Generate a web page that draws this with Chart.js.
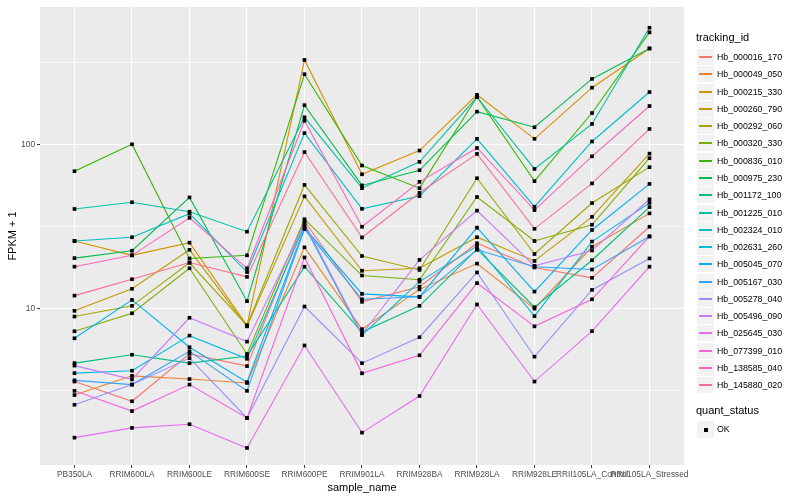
<!DOCTYPE html>
<html>
<head>
<meta charset="utf-8">
<script src="https://cdn.jsdelivr.net/npm/chart.js@4.4.0/dist/chart.umd.min.js"></script>
<style>
  body { margin: 0; background: #fff; }
  #wrap { position: relative; width: 800px; height: 500px; font-family: "Liberation Sans", Arial, sans-serif; color: #000; }
  #legend div { position: absolute; white-space: nowrap; }
</style>
</head>
<body>
<div id="wrap">
  <canvas id="fpkm" width="800" height="500"></canvas>
  <div id="legend"></div>
</div>
<script>
// samples on the x axis
var sampleNames = ["PB350LA", "RRIM600LA", "RRIM600LE", "RRIM600SE", "RRIM600PE", "RRIM901LA",
    "RRIM928BA", "RRIM928LA", "RRIM928LE", "RRII105LA_Control", "RRII105LA_Stressed"];

var trackingIds = ["Hb_000016_170", "Hb_000049_050", "Hb_000215_330", "Hb_000260_790", "Hb_000292_060",
    "Hb_000320_330", "Hb_000836_010", "Hb_000975_230", "Hb_001172_100", "Hb_001225_010",
    "Hb_002324_010", "Hb_002631_260", "Hb_005045_070", "Hb_005167_030", "Hb_005278_040",
    "Hb_005496_090", "Hb_025645_030", "Hb_077399_010", "Hb_138585_040", "Hb_145880_020"];

// FPKM + 1, one value per sample
var hb_000016_170 = [3.6, 2.73, 5.3, 4.47, 34, 11.0, 13.6, 25, 17.8, 15.4, 31.5];
var hb_000049_050 = [2.98, 3.9, 3.73, 3.53, 23.6, 7.5, 13.1, 18.8, 10.0, 23.8, 38];
var hb_000215_330 = [25.8, 21.1, 25.2, 7.9, 326, 65.7, 91.6, 200, 108, 221, 383];
var hb_000260_790 = [9.7, 13.2, 22.8, 7.8, 48.2, 17, 17.6, 27.2, 19.5, 36.2, 87.8];
var hb_000292_060 = [8.95, 10.4, 19.0, 7.9, 56.6, 20.9, 17.2, 62.2, 21.5, 43.9, 72.6];
var hb_000320_330 = [7.28, 9.37, 17.6, 5.3, 35, 15.9, 15, 47.8, 25.8, 32.4, 82.3];
var hb_000836_010 = [68.6, 100, 20.2, 21.1, 267, 74.3, 54.1, 194, 59.7, 155, 480];
var hb_000975_230 = [20.3, 22.5, 47.5, 11.1, 173, 56.2, 69.5, 158, 127, 250, 383];
var hb_001172_100 = [4.66, 5.24, 4.66, 5.15, 18, 7.2, 10.4, 23, 10.2, 19.7, 41.5];
var hb_001225_010 = [40.4, 44.4, 38.9, 29.4, 146, 54.1, 78.2, 194, 70.8, 133, 512];
var hb_002324_010 = [25.8, 27.2, 37.8, 16.7, 117, 40.5, 48.4, 108, 41.7, 104, 208];
var hb_002631_260 = [4.05, 4.19, 6.85, 4.95, 32, 6.9, 14.6, 24, 9, 25.6, 44];
var hb_005045_070 = [6.6, 11.3, 5.82, 3.57, 31, 12.3, 11.8, 31.1, 12.7, 30.1, 57.4];
var hb_005167_030 = [3.66, 3.45, 5.5, 3.16, 30.5, 11.4, 11.8, 22.8, 18.0, 17.3, 27.5];
var hb_005278_040 = [2.6, 3.45, 5.0, 2.16, 10.3, 4.66, 6.7, 16.6, 5.1, 13.0, 20.2];
var hb_005496_090 = [4.5, 3.71, 8.8, 6.3, 33, 7.0, 19.8, 39.5, 18.2, 22.6, 46.3];
var hb_025645_030 = [1.64, 1.88, 1.98, 1.42, 5.97, 1.76, 2.94, 10.6, 3.6, 7.3, 18.0];
var hb_077399_010 = [3.16, 2.38, 3.45, 2.16, 20.5, 4.04, 5.2, 14.3, 7.8, 11.4, 27.5];
var hb_138585_040 = [18.0, 21.1, 35.7, 17.6, 139, 31.5, 59.1, 95, 39.8, 84.5, 171];
var hb_145880_020 = [12.0, 15.1, 19.1, 15.6, 89.7, 27.1, 50.7, 87.4, 30.6, 57.8, 124];

var seriesValues = [hb_000016_170, hb_000049_050, hb_000215_330, hb_000260_790, hb_000292_060,
    hb_000320_330, hb_000836_010, hb_000975_230, hb_001172_100, hb_001225_010,
    hb_002324_010, hb_002631_260, hb_005045_070, hb_005167_030, hb_005278_040,
    hb_005496_090, hb_025645_030, hb_077399_010, hb_138585_040, hb_145880_020];

// y ticks: labelled majors and unlabelled half-decade minors
var majorTicks = [10, 100];
var minorTicks = [3.1623, 31.623, 316.23];

// ggplot hue palette, 20 levels
var hueColors = ["#F8766D", "#EA8331", "#D89000", "#C09B00", "#A3A500", "#7CAE00", "#39B600", "#00BB4E",
    "#00BF7D", "#00C1A3", "#00BFC4", "#00BAE0", "#00B0F6", "#35A2FF", "#9590FF", "#C77CFF",
    "#E76BF3", "#FA62DB", "#FF62BC", "#FF6C91"];

var datasets = [];
seriesValues.forEach(function (vals, i) {
    var pts = vals.map(function (v, j) { return { x: j, y: v }; });
    datasets.push({
        label: trackingIds[i],
        data: pts,
        borderColor: hueColors[i],
        borderWidth: 1.1,
        pointRadius: 0,
        tension: 0,
        order: 100 - i,
    });
    datasets.push({
        label: trackingIds[i] + " OK",
        data: pts,
        showLine: false,
        pointStyle: "rect",
        pointRadius: 2.6,
        pointBorderWidth: 0,
        pointBackgroundColor: "#000",
        order: 0,
    });
});

var panelBg = {
    id: "panelBg",
    beforeDraw: function (chart) {
        var c = chart.ctx, a = chart.chartArea;
        c.save();
        c.fillStyle = "#fff";
        c.fillRect(0, 0, chart.width, chart.height);
        c.fillStyle = "#EBEBEB";
        c.fillRect(a.left, a.top, a.right - a.left, a.bottom - a.top);
        c.restore();
    },
};

var tickFont = { family: "Liberation Sans", size: 8.3 };
var titleFont = { family: "Liberation Sans", size: 11 };

var ctx = document.getElementById("fpkm").getContext("2d");
var fpkmChart = new Chart(ctx, {
    type: "line",
    data: { datasets: datasets },
    plugins: [panelBg],
    options: {
        responsive: false,
        animation: false,
        layout: { padding: { top: 5, right: 116, left: 0, bottom: 0 } },
        plugins: {
            legend: { display: false },
            tooltip: { enabled: false },
        },
        scales: {
            x: {
                type: "linear",
                min: -0.6,
                max: 10.6,
                afterBuildTicks: function (scale) {
                    scale.ticks = sampleNames.map(function (n, i) { return { value: i }; });
                },
                afterFit: function (scale) { scale.height = 35; },
                border: { display: false },
                grid: { color: "#fff", lineWidth: 1.1, tickLength: 3, tickColor: "#333", tickWidth: 1 },
                ticks: {
                    autoSkip: false,
                    maxRotation: 0,
                    minRotation: 0,
                    padding: 2,
                    color: "#4D4D4D",
                    font: tickFont,
                    callback: function (v) { return sampleNames[v]; },
                },
                title: { display: true, text: "sample_name", color: "#000", font: titleFont, padding: { top: 0, bottom: 5 } },
            },
            y: {
                type: "logarithmic",
                min: 1.118,
                max: 685,
                afterBuildTicks: function (scale) {
                    scale.ticks = minorTicks.concat(majorTicks).sort(function (a, b) { return a - b; })
                        .map(function (v) { return { value: v }; });
                },
                afterFit: function (scale) { scale.width = 40; },
                border: { display: false },
                grid: {
                    color: "#fff",
                    lineWidth: function (c) { return majorTicks.indexOf(c.tick.value) >= 0 ? 1.1 : 0.55; },
                    tickLength: 3,
                    tickColor: function (c) { return majorTicks.indexOf(c.tick.value) >= 0 ? "#333" : "rgba(0,0,0,0)"; },
                    tickWidth: 1,
                },
                ticks: {
                    padding: 2,
                    color: "#4D4D4D",
                    font: tickFont,
                    callback: function (v) { return majorTicks.indexOf(v) >= 0 ? String(v) : ""; },
                },
                title: { display: true, text: "FPKM + 1", color: "#000", font: titleFont, padding: { top: 6, bottom: 0 } },
            },
        },
    },
});

// legend, ggplot style
var legend = document.getElementById("legend");
function addDiv(css, text) {
    var d = document.createElement("div");
    d.style.cssText = css;
    if (text) d.textContent = text;
    legend.appendChild(d);
    return d;
}
addDiv("left:696px;top:31px;font-size:11px;line-height:13px;", "tracking_id");
trackingIds.forEach(function (id, i) {
    var top = Math.round(49 + i * 17.28);
    addDiv("left:697px;top:" + top + "px;width:17px;height:16px;background:#F2F2F2;");
    addDiv("left:699px;top:" + (top + 7) + "px;width:13px;height:2px;background:" + hueColors[i] + ";");
    addDiv("left:717px;top:" + top + "px;height:17px;line-height:17px;font-size:8.8px;", id);
});
addDiv("left:696px;top:404px;font-size:11px;line-height:13px;", "quant_status");
addDiv("left:697px;top:421px;width:17px;height:17px;background:#F2F2F2;");
addDiv("left:704px;top:428px;width:4px;height:4px;background:#000;");
addDiv("left:717px;top:421px;height:17px;line-height:17px;font-size:8.8px;", "OK");
</script>
</body>
</html>
